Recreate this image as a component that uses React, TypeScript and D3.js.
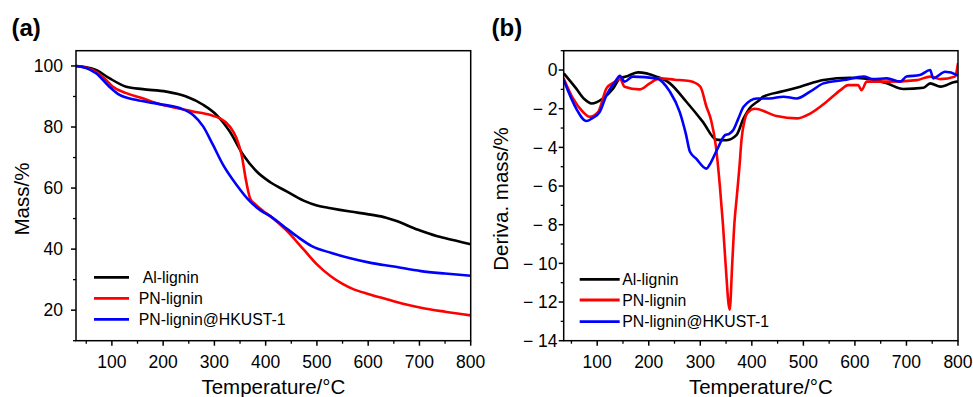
import React from 'react';
import * as d3 from 'd3';

type Pt = [number, number];

const seriesNames = ['Al-lignin', 'PN-lignin', 'PN-lignin@HKUST-1'];
const seriesColors = ['#000000', '#ff0000', '#0000ff'];

// Panel (a): mass (%) vs temperature (°C)
const massAl: Pt[] = [[30,100],[50,99.6],[69,98.7],[95,96],[128,93.2],[160,92.4],[206,91.6],[245,90],[278,87.3],[304,84],[330,78.5],[356,70.9],[382,65.5],[409,61.9],[440,59],[474,55.9],[500,54.3],[527,53.4],[565,52.3],[605,51.3],[635,50.3],[657,49.1],[696,46.4],[735,44.2],[770,42.8],[800,41.6]];
const massPN: Pt[] = [[30,100],[50,99.4],[69,98.1],[85,96],[102,93.2],[128,91.1],[160,89.4],[193,87.5],[226,86.2],[258,85.1],[291,84],[310,82.9],[330,80.2],[343,76.4],[353,70.9],[362,62.2],[370,56.5],[379,54.8],[395,52.5],[409,50.8],[440,46.2],[474,39.9],[500,35],[527,31.1],[550,28.6],[572,26.8],[600,25.3],[638,23.5],[670,22],[703,20.8],[750,19.5],[800,18.3]];
const massHK: Pt[] = [[30,100],[50,99.3],[69,97.6],[95,93.2],[115,90.5],[147,88.9],[193,87.5],[232,86.2],[258,84],[278,80.2],[297,74.2],[317,67.6],[343,61.1],[369,55.7],[390,52.7],[409,50.8],[435,47.5],[461,44.2],[490,41],[527,38.8],[565,37],[605,35.5],[650,34.3],[703,32.8],[750,32],[800,31.3]];

// Panel (b): derivative mass vs temperature (°C)
const derivAl: Pt[] = [[35,-0.17],[59,-0.95],[75,-1.5],[89,-1.73],[111,-1.47],[131,-0.95],[144,-0.43],[156,-0.34],[179,-0.12],[215,-0.34],[241,-0.69],[273,-1.64],[305,-2.68],[331,-3.6],[351,-3.63],[370,-3.37],[384,-2.5],[395,-2.0],[415,-1.55],[422,-1.38],[460,-1.1],[494,-0.86],[539,-0.52],[591,-0.4],[617,-0.43],[662,-0.69],[694,-0.98],[733,-0.92],[746,-0.69],[766,-0.86],[798,-0.6],[800,-0.6]];
const derivPN: Pt[] = [[35,-0.43],[53,-1.47],[72,-2.16],[85,-2.42],[102,-2.16],[118,-0.95],[135,-0.6],[144,-0.43],[153,-0.86],[182,-1.0],[202,-0.69],[221,-0.43],[250,-0.5],[279,-0.57],[300,-0.86],[312,-1.9],[321,-2.6],[330,-3.9],[338,-6.0],[344,-8],[349,-10],[357,-12.4],[362,-10],[366,-8],[371,-6.5],[376,-5],[380,-3.6],[386,-2.6],[392,-2.2],[406,-2.0],[448,-2.38],[487,-2.5],[513,-2.25],[545,-1.64],[572,-1.04],[587,-0.78],[606,-0.78],[613,-1.04],[623,-0.6],[662,-0.6],[720,-0.52],[746,-0.34],[766,-0.47],[794,-0.34],[800,0.35]];
const derivHK: Pt[] = [[35,-0.52],[59,-1.98],[79,-2.64],[90,-2.5],[105,-2.16],[118,-1.3],[135,-0.6],[144,-0.3],[153,-0.6],[169,-0.34],[215,-0.43],[241,-1.12],[260,-2.16],[272,-3.3],[280,-4.23],[292,-4.58],[312,-5.1],[318,-4.9],[332,-4.15],[348,-3.37],[356,-3.3],[364,-3.1],[374,-2.5],[384,-1.9],[410,-1.47],[435,-1.47],[461,-1.38],[487,-1.47],[513,-1.12],[539,-0.69],[578,-0.52],[617,-0.34],[636,-0.47],[662,-0.43],[688,-0.6],[700,-0.34],[726,-0.26],[746,0],[752,-0.43],[775,-0.09],[798,-0.26],[800,-0.3]];

const xTicks = [100, 200, 300, 400, 500, 600, 700, 800];
const xMinor = [50, 150, 250, 350, 450, 550, 650, 750];
const massTicks = [20, 40, 60, 80, 100];
const massMinor = [10, 30, 50, 70, 90];
const derivTicks = [0, -2, -4, -6, -8, -10, -12, -14];
const derivMinor = [1, -1, -3, -5, -7, -9, -11, -13];

const FONT = '"Liberation Sans", Arial, Helvetica, sans-serif';

interface PanelProps {
  left: number; right: number; top: number; bottom: number;
  xDomain: [number, number]; yDomain: [number, number];
  data: Pt[][];
  yTicks: number[]; yMinor: number[];
  yFmt: (v: number) => string;
  yLabelEnd: number;
  yTitle: string; yTitleX: number;
  label: string; labelX: number;
  legendX1: number; legendX2: number; legendYs: number[]; legendTextX: number[];
  clipId: string;
}

function Panel(p: PanelProps) {
  const x = d3.scaleLinear().domain(p.xDomain).range([p.left, p.right]);
  const y = d3.scaleLinear().domain(p.yDomain).range([p.bottom, p.top]);
  const line = d3.line<Pt>().x(d => x(d[0])).y(d => y(d[1])).curve(d3.curveMonotoneX);
  const cx = (p.left + p.right) / 2;
  return (
    <g>
      <defs>
        <clipPath id={p.clipId}>
          <rect x={p.left} y={p.top} width={p.right - p.left} height={p.bottom - p.top} />
        </clipPath>
      </defs>
      <text x={p.labelX} y={36} fontFamily={FONT} fontWeight="bold" fontSize={24}>{p.label}</text>
      <g clipPath={`url(#${p.clipId})`}>
        {p.data.map((s, i) => (
          <path key={i} d={line(s) || ''} fill="none" stroke={seriesColors[i]} strokeWidth={2.6} strokeLinejoin="round" />
        ))}
      </g>
      <rect x={p.left} y={p.top} width={p.right - p.left} height={p.bottom - p.top} fill="none" stroke="#000" strokeWidth={1.5} />
      {xTicks.map(t => (
        <g key={'xt' + t}>
          <line x1={x(t)} x2={x(t)} y1={p.bottom} y2={p.bottom + 5} stroke="#000" strokeWidth={1.5} />
          <text x={x(t)} y={368} textAnchor="middle" fontFamily={FONT} fontSize={17.5}>{t}</text>
        </g>
      ))}
      {xMinor.map(t => (
        <line key={'xm' + t} x1={x(t)} x2={x(t)} y1={p.bottom} y2={p.bottom + 3} stroke="#000" strokeWidth={1.3} />
      ))}
      {p.yTicks.map(t => (
        <g key={'yt' + t}>
          <line x1={p.left - 5} x2={p.left} y1={y(t)} y2={y(t)} stroke="#000" strokeWidth={1.5} />
          <text x={p.yLabelEnd} y={y(t)} dy="0.36em" textAnchor="end" fontFamily={FONT} fontSize={17.5}>{p.yFmt(t)}</text>
        </g>
      ))}
      {p.yMinor.map(t => (
        <line key={'ym' + t} x1={p.left - 3} x2={p.left} y1={y(t)} y2={y(t)} stroke="#000" strokeWidth={1.3} />
      ))}
      <text x={cx} y={394} textAnchor="middle" fontFamily={FONT} fontSize={20.5}>Temperature/°C</text>
      <text transform={`translate(${p.yTitleX},199) rotate(-90)`} textAnchor="middle" fontFamily={FONT} fontSize={20.5}>{p.yTitle}</text>
      {seriesNames.map((n, i) => (
        <g key={'lg' + i}>
          <line x1={p.legendX1} x2={p.legendX2} y1={p.legendYs[i]} y2={p.legendYs[i]} stroke={seriesColors[i]} strokeWidth={2.8} />
          <text x={p.legendTextX[i]} y={p.legendYs[i]} dy="0.36em" fontFamily={FONT} fontSize={15.8}>{n}</text>
        </g>
      ))}
    </g>
  );
}

export default function App() {
  return (
    <svg width={973} height={397} style={{ position: 'absolute', left: 0, top: 0, background: '#fff' }}>
      <Panel
        left={76} right={470.7} top={50.7} bottom={340.7}
        xDomain={[30, 800]} yDomain={[10, 105]}
        data={[massAl, massPN, massHK]}
        yTicks={massTicks} yMinor={massMinor}
        yFmt={v => String(v)}
        yLabelEnd={63}
        yTitle="Mass/%" yTitleX={28.5}
        label="(a)" labelX={11.5}
        legendX1={94} legendX2={129} legendYs={[277.3, 298.3, 319.3]} legendTextX={[142.7, 138.7, 138.7]}
        clipId="clipA"
      />
      <Panel
        left={563.7} right={958} top={50.7} bottom={340.7}
        xDomain={[35, 800]} yDomain={[-14, 1]}
        data={[derivAl, derivPN, derivHK]}
        yTicks={derivTicks} yMinor={derivMinor}
        yFmt={v => (v === 0 ? '0' : '\u2212\u00a0' + Math.abs(v))}
        yLabelEnd={557.5}
        yTitle="Deriva. mass/%" yTitleX={508}
        label="(b)" labelX={491.5}
        legendX1={579.7} legendX2={619.7} legendYs={[279.3, 300, 321.7]} legendTextX={[622.3, 622.3, 622.3]}
        clipId="clipB"
      />
    </svg>
  );
}
